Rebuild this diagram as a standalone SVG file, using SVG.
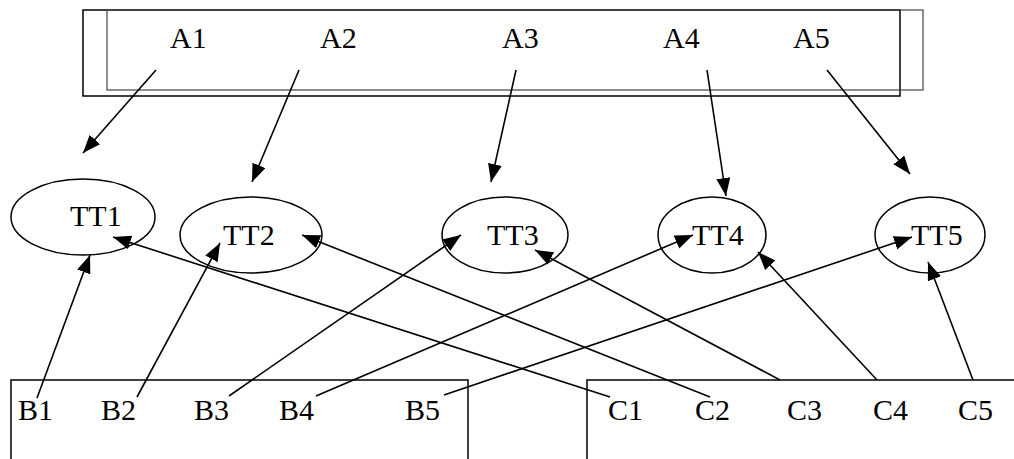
<svg xmlns="http://www.w3.org/2000/svg" width="1014" height="459" viewBox="0 0 1014 459">
<style>
.lbl{font-family:"Liberation Serif","Times New Roman",serif;font-size:30px;fill:#000}
.box{fill:none;stroke:#000;stroke-width:1.5}
.ell{fill:none;stroke:#000;stroke-width:1.5}
.con{stroke:#000;stroke-width:1.6;fill:none;marker-end:url(#ah)}
</style>
<defs>
<marker id="ah" markerUnits="userSpaceOnUse" markerWidth="19" markerHeight="15" refX="18" refY="7" orient="auto">
<path d="M0,0 L18,7 L0,14 z" fill="#000"/>
</marker>
</defs>
<rect width="1014" height="459" fill="#fff"/>
<g id="topbox">
<rect class="box" x="83" y="10" width="817" height="86" stroke="#222"/>
<rect class="box" x="107" y="10" width="816" height="80" style="stroke:#444;stroke-width:1.2"/>
<text class="lbl" x="170" y="48">A1</text>
<text class="lbl" x="320" y="48">A2</text>
<text class="lbl" x="502" y="48">A3</text>
<text class="lbl" x="663" y="48">A4</text>
<text class="lbl" x="793" y="48">A5</text>
</g>
<g id="TT1"><ellipse class="ell" cx="83" cy="217" rx="72" ry="38"/><text class="lbl" x="70" y="226">TT1</text></g>
<g id="TT2"><ellipse class="ell" cx="251" cy="235" rx="71" ry="38"/><text class="lbl" x="223" y="245">TT2</text></g>
<g id="TT3"><ellipse class="ell" cx="505" cy="235" rx="63" ry="38"/><text class="lbl" x="487" y="245">TT3</text></g>
<g id="TT4"><ellipse class="ell" cx="712" cy="235" rx="54" ry="38"/><text class="lbl" x="692" y="245">TT4</text></g>
<g id="TT5"><ellipse class="ell" cx="930" cy="235" rx="55" ry="38"/><text class="lbl" x="911" y="245">TT5</text></g>
<g id="boxB">
<rect class="box" x="11" y="380" width="457" height="100"/>
<text class="lbl" x="18" y="420">B1</text>
<text class="lbl" x="101" y="420">B2</text>
<text class="lbl" x="194" y="420">B3</text>
<text class="lbl" x="279" y="420">B4</text>
<text class="lbl" x="405" y="420">B5</text>
</g>
<g id="boxC">
<rect class="box" x="587" y="380" width="450" height="100"/>
<text class="lbl" x="608" y="420">C1</text>
<text class="lbl" x="695" y="420">C2</text>
<text class="lbl" x="787" y="420">C3</text>
<text class="lbl" x="873" y="420">C4</text>
<text class="lbl" x="958" y="420">C5</text>
</g>
<g id="connectors">
<line class="con" x1="156" y1="70" x2="83" y2="153"/>
<line class="con" x1="299" y1="70" x2="252" y2="182"/>
<line class="con" x1="516" y1="70" x2="491" y2="182"/>
<line class="con" x1="707" y1="70" x2="726" y2="196"/>
<line class="con" x1="827" y1="70" x2="910" y2="174"/>
<line class="con" x1="37" y1="398" x2="90" y2="255"/>
<line class="con" x1="137" y1="397" x2="220" y2="243"/>
<line class="con" x1="229" y1="396" x2="461" y2="235"/>
<line class="con" x1="316" y1="396" x2="693" y2="235"/>
<line class="con" x1="444" y1="395" x2="912" y2="237"/>
<line class="con" x1="610" y1="397" x2="113" y2="237"/>
<line class="con" x1="710" y1="397" x2="302" y2="235"/>
<line class="con" x1="780" y1="380" x2="535" y2="250"/>
<line class="con" x1="877" y1="380" x2="758" y2="252"/>
<line class="con" x1="973" y1="380" x2="928" y2="262"/>
</g>
</svg>
